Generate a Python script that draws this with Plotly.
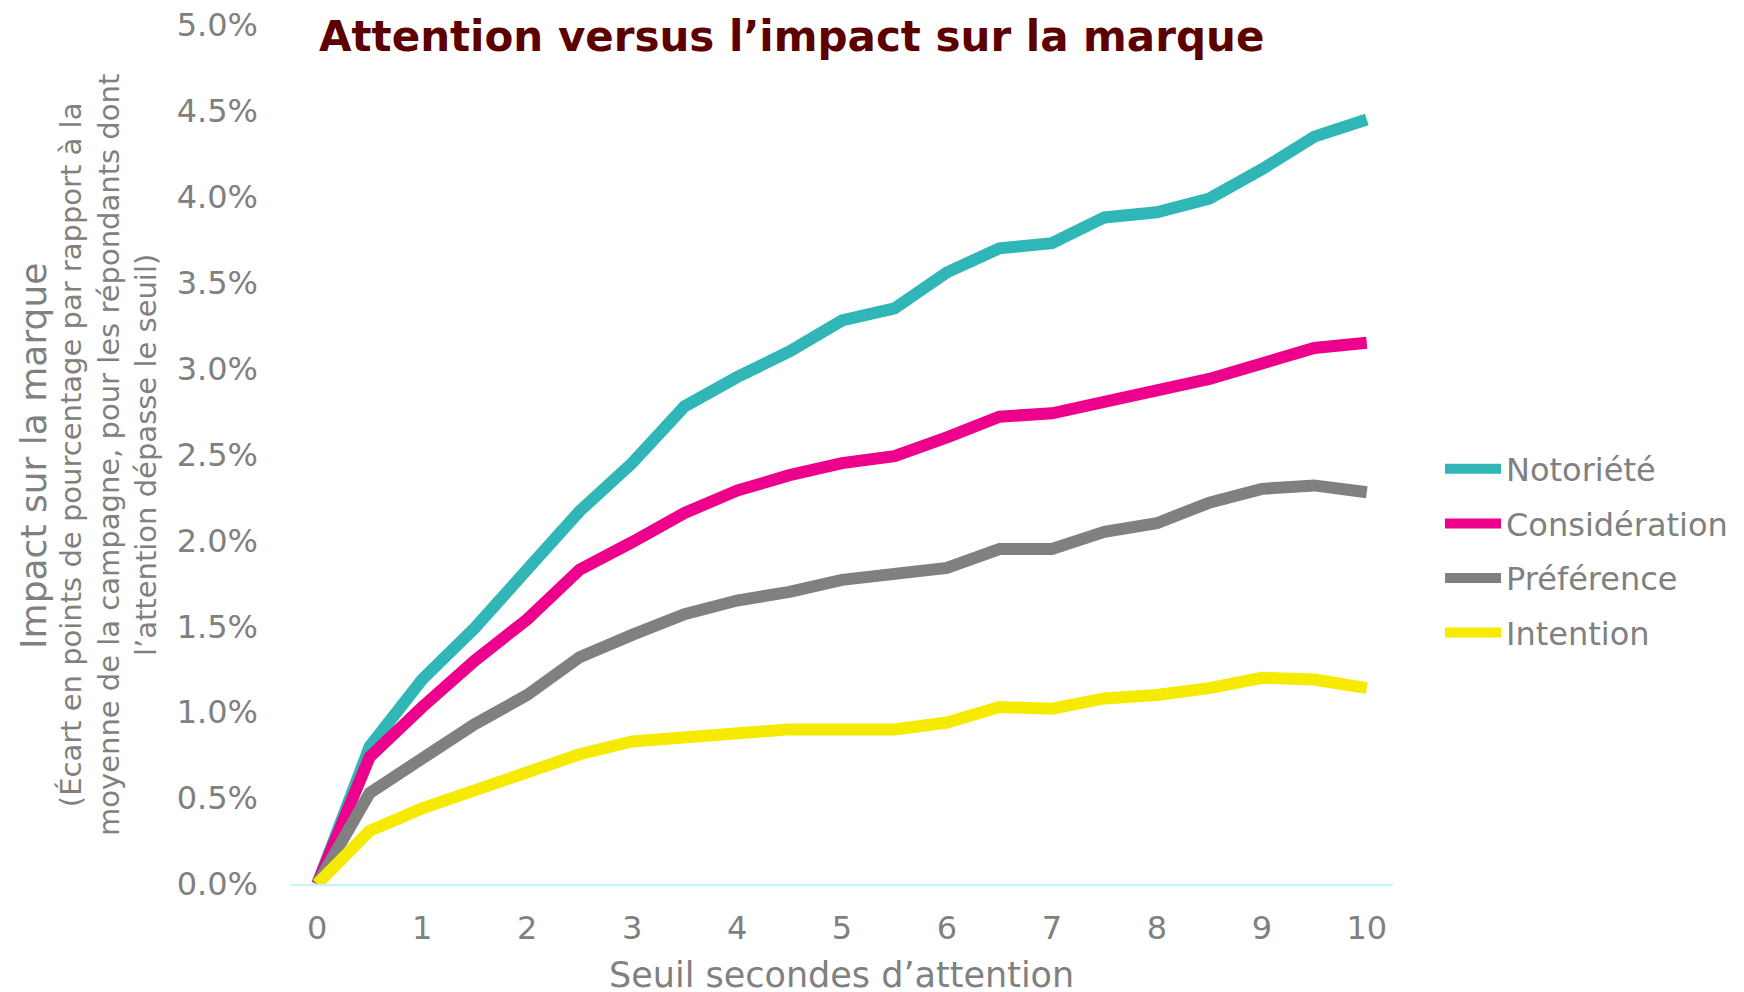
import plotly.graph_objects as go

# Data
seuils = [0, 0.5, 1, 1.5, 2, 2.5, 3, 3.5, 4, 4.5, 5, 5.5, 6, 6.5, 7, 7.5, 8, 8.5, 9, 9.5, 10]
notoriete = [0.0, 0.80, 1.19, 1.49, 1.83, 2.17, 2.45, 2.78, 2.95, 3.10, 3.28, 3.35, 3.56, 3.70, 3.73, 3.88, 3.91, 3.99, 4.16, 4.35, 4.45]
consideration = [0.0, 0.74, 1.03, 1.30, 1.54, 1.83, 1.99, 2.16, 2.29, 2.38, 2.45, 2.49, 2.60, 2.72, 2.74, 2.81, 2.87, 2.94, 3.03, 3.12, 3.15]
preference = [0.0, 0.53, 0.73, 0.93, 1.10, 1.32, 1.45, 1.57, 1.65, 1.70, 1.77, 1.80, 1.84, 1.95, 1.95, 2.05, 2.10, 2.22, 2.30, 2.32, 2.28]
intention = [0.0, 0.31, 0.44, 0.54, 0.64, 0.755, 0.83, 0.85, 0.88, 0.90, 0.90, 0.90, 0.94, 1.03, 1.02, 1.08, 1.10, 1.14, 1.20, 1.19, 1.14]

series_names = ["Notoriété", "Considération", "Préférence", "Intention"]
series_values = [notoriete, consideration, preference, intention]
series_colors = ["#31B6B8", "#EC008C", "#808080", "#F6EB00"]

x_ticks = list(range(0, 11))
y_ticks = [0, 0.5, 1.0, 1.5, 2.0, 2.5, 3.0, 3.5, 4.0, 4.5, 5.0]
y_labels = [f"{v:.1f}%" for v in y_ticks]

title_text = "Attention versus l’impact sur la marque"
x_title = "Seuil secondes d’attention"
y_title = "Impact sur la marque"
y_subtitle = "(Écart en points de pourcentage par rapport à la<br>moyenne de la campagne, pour les répondants dont<br>l’attention dépasse le seuil)"

FONT = "DejaVu Sans"
GRAY = "#808080"

fig = go.Figure()
for name, vals, col in zip(series_names, series_values, series_colors):
    fig.add_trace(go.Scatter(
        x=seuils, y=vals, mode="lines", name=name, legendgroup=name,
        line=dict(color=col, width=12, shape="linear"),
    ))

# page body has an 8px margin: positions below are in reference pixels, shifted by OFF
OFF = 8
W, H = 1744, 992
L = 291 - OFF
R = W - (1393 - OFF)
T = 25 - OFF
B = H - (884 - OFF)
pw = W - L - R
ph = H - T - B

def px_x(px):
    return (px - OFF - L) / pw

def px_y(py):
    return (H - B - (py - OFF)) / ph

fig.update_layout(
    width=W, height=H,
    margin=dict(l=L, r=R, t=T, b=B, pad=0, autoexpand=False),
    paper_bgcolor="white", plot_bgcolor="white",
    font=dict(family=FONT, color=GRAY, size=32),
    showlegend=True,
    legend=dict(
        x=px_x(1440), xanchor="left",
        y=px_y(551), yanchor="middle",
        font=dict(family=FONT, size=32, color=GRAY),
        itemwidth=56,
        tracegroupgap=10,
        bgcolor="rgba(0,0,0,0)",
    ),
    xaxis=dict(
        range=[-0.25, 10.25], automargin=False,
        tickmode="array", tickvals=x_ticks, ticktext=[str(v) for v in x_ticks],
        showgrid=False, zeroline=False,
        showline=True, linecolor="#C3F6FA", linewidth=2,
        ticks="", ticklabelstandoff=15,
        tickfont=dict(family=FONT, size=32, color=GRAY),
    ),
    yaxis=dict(
        range=[0, 5.0], automargin=False,
        tickmode="array", tickvals=y_ticks, ticktext=y_labels,
        showgrid=False, zeroline=False, showline=False,
        ticks="", ticklabelstandoff=32, ticklabeloverflow="allow",
        tickfont=dict(family=FONT, size=32, color=GRAY),
    ),
    annotations=[
        dict(text=f"<b>{title_text}</b>", xref="paper", yref="paper",
             x=px_x(317), xanchor="left", y=px_y(36), yanchor="middle",
             showarrow=False, font=dict(family=FONT, size=42, color="#5C0000")),
        dict(text=x_title, xref="paper", yref="paper",
             x=px_x(841), xanchor="center", y=px_y(975), yanchor="middle",
             showarrow=False, font=dict(family=FONT, size=35, color=GRAY)),
        dict(text=y_title, xref="paper", yref="paper",
             x=px_x(33), xanchor="center", y=px_y(456), yanchor="middle",
             textangle=-90, showarrow=False,
             font=dict(family=FONT, size=36, color=GRAY)),
        dict(text=y_subtitle, xref="paper", yref="paper",
             x=px_x(108), xanchor="center", y=px_y(455), yanchor="middle",
             textangle=-90, showarrow=False, align="center",
             font=dict(family=FONT, size=29, color=GRAY)),
    ],
)

fig.write_html("out.html")
